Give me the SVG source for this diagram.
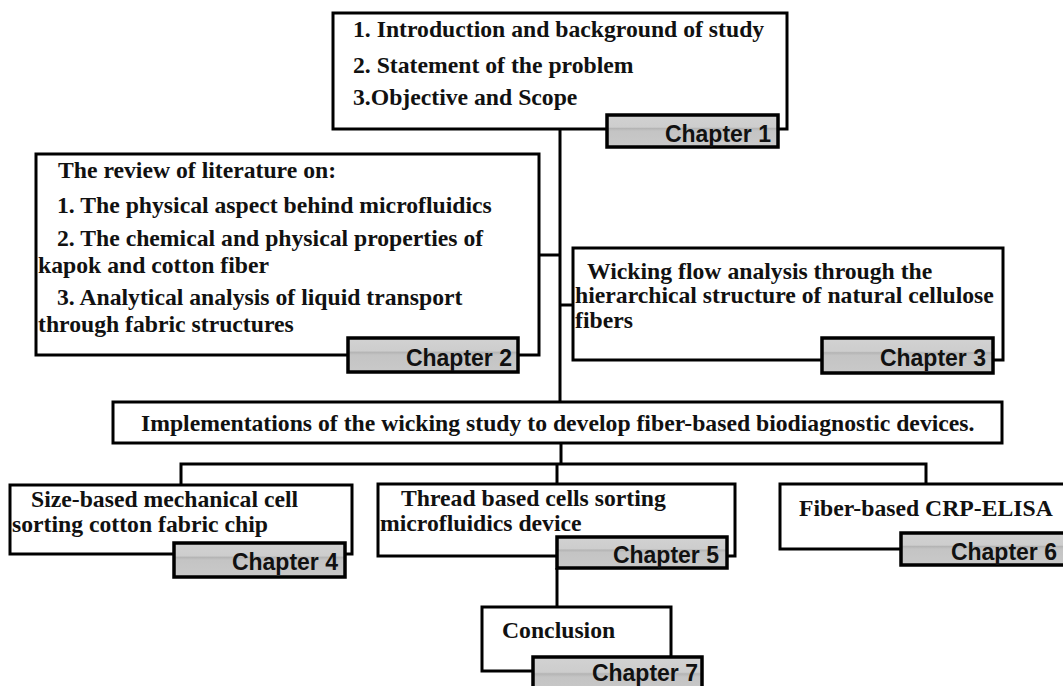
<svg xmlns="http://www.w3.org/2000/svg" width="1063" height="686" viewBox="0 0 1063 686">
<defs>
<linearGradient id="tabg" x1="0" y1="0" x2="0" y2="1">
<stop offset="0" stop-color="#d2d2d2"/>
<stop offset="0.38" stop-color="#cdcdcd"/>
<stop offset="0.42" stop-color="#b4b4b4"/>
<stop offset="0.5" stop-color="#c4c4c4"/>
<stop offset="1" stop-color="#c9c9c9"/>
</linearGradient>
</defs>
<style>
.box{fill:#fff;stroke:#000;stroke-width:3}
.tab{fill:url(#tabg);stroke:#000;stroke-width:3.5}
.t{font-family:"Liberation Serif","Times New Roman",serif;font-weight:bold;font-size:23.7px;fill:#111}
.c{font-family:"Liberation Sans",Arial,sans-serif;font-weight:bold;font-size:23px;fill:#111;text-anchor:end}
.ln{fill:none;stroke:#000;stroke-width:3}
</style>
<rect width="1063" height="686" fill="#fff"/>
<g id="connectors">
<path class="ln" d="M560 129 V402"/>
<path class="ln" d="M539 255 H560"/>
<path class="ln" d="M560 305 H573"/>
<path class="ln" d="M561 443 V464"/>
<path class="ln" d="M181 485 V464 H926 V485"/>
<path class="ln" d="M557 464 V484"/>
<path class="ln" d="M557 568 V607"/>
</g>
<g id="ch1">
<rect class="box" x="333" y="13" width="454" height="116"/>
<text class="t" x="353" y="37">1. Introduction and background of study</text>
<text class="t" x="353" y="73">2. Statement of the problem</text>
<text class="t" x="353" y="105">3.Objective and Scope</text>
<rect class="tab" x="607" y="115" width="171" height="32"/>
<text class="c" x="771" y="142">Chapter 1</text>
</g>
<g id="ch2">
<rect class="box" x="36" y="154" width="503" height="201"/>
<text class="t" x="58" y="178">The review of literature on:</text>
<text class="t" x="57" y="213">1. The physical aspect behind microfluidics</text>
<text class="t" x="57" y="246">2. The chemical and physical properties of</text>
<text class="t" x="38" y="273">kapok and cotton fiber</text>
<text class="t" x="57" y="305">3. Analytical analysis of liquid  transport</text>
<text class="t" x="38" y="332">through fabric structures</text>
<rect class="tab" x="348" y="338" width="170" height="34"/>
<text class="c" x="512" y="366">Chapter 2</text>
</g>
<g id="ch3">
<rect class="box" x="573" y="248" width="430" height="112"/>
<text class="t" x="587" y="279">Wicking flow analysis through the</text>
<text class="t" x="575" y="303">hierarchical structure of natural cellulose</text>
<text class="t" x="575" y="328">fibers</text>
<rect class="tab" x="822" y="338" width="171" height="35"/>
<text class="c" x="986" y="366">Chapter 3</text>
</g>
<g id="impl">
<rect class="box" x="113" y="402" width="889" height="41"/>
<text class="t" x="141" y="431">Implementations of the wicking study to develop fiber-based biodiagnostic devices.</text>
</g>
<g id="ch4">
<rect class="box" x="10" y="485" width="342" height="69"/>
<text class="t" x="31" y="507">Size-based mechanical cell</text>
<text class="t" x="12" y="532">sorting cotton fabric chip</text>
<rect class="tab" x="174" y="543" width="171" height="34"/>
<text class="c" x="338" y="570">Chapter 4</text>
</g>
<g id="ch5">
<rect class="box" x="378" y="484" width="357" height="72"/>
<text class="t" x="401" y="506">Thread based cells sorting</text>
<text class="t" x="380" y="531">microfluidics device</text>
<rect class="tab" x="557" y="537" width="170" height="31"/>
<text class="c" x="719" y="563">Chapter 5</text>
</g>
<g id="ch6">
<rect class="box" x="780" y="484" width="300" height="65"/>
<text class="t" x="799" y="516">Fiber-based CRP-ELISA</text>
<rect class="tab" x="901" y="533" width="175" height="32"/>
<text class="c" x="1057" y="560">Chapter 6</text>
</g>
<g id="ch7">
<rect class="box" x="482" y="607" width="189" height="64"/>
<text class="t" x="502" y="638">Conclusion</text>
<rect class="tab" x="533" y="657" width="169" height="40"/>
<text class="c" x="698" y="681">Chapter 7</text>
</g>
</svg>
